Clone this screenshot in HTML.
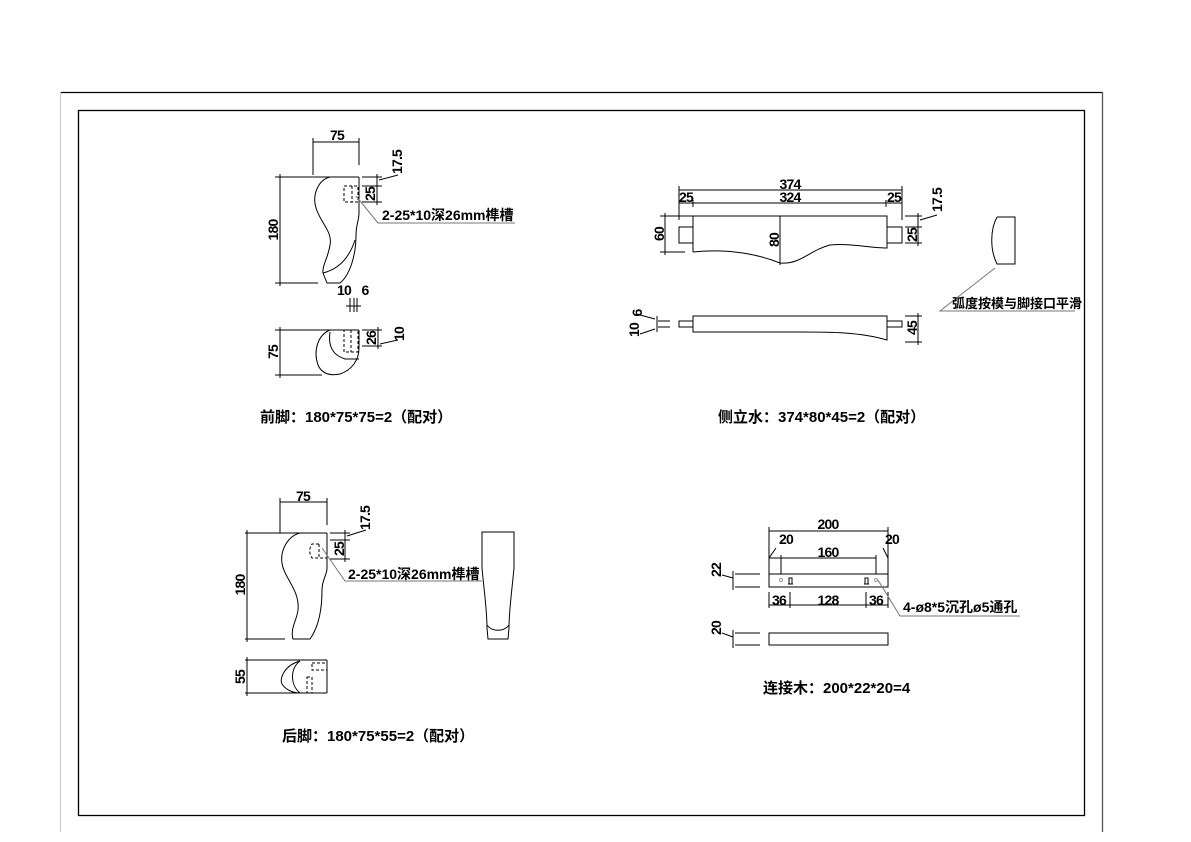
<!DOCTYPE html>
<html><head><meta charset="utf-8"><style>
html,body{margin:0;padding:0;background:#fff}
svg{display:block}
text{font-family:"Liberation Sans","Noto Sans CJK SC",sans-serif;fill:#000}
.d{font-size:14px;font-weight:bold;letter-spacing:-0.8px}
.c{font-size:15px;font-weight:bold}
</style></head><body>
<svg width="1191" height="842" viewBox="0 0 1191 842" xmlns="http://www.w3.org/2000/svg">
<g fill="none" stroke="#000" stroke-width="1">
<line x1="61" y1="92.5" x2="1102" y2="92.5" stroke-width="1.3"/>
<line x1="60.5" y1="92" x2="60.5" y2="832" stroke="#ccc"/>
<line x1="1102.5" y1="92" x2="1102.5" y2="832" stroke="#555" stroke-width="1.3"/>
<rect x="78.5" y="110.5" width="1006" height="705" stroke-width="1.3"/>

<!-- FRONT LEG -->
<line x1="313" y1="142" x2="359" y2="142"/>
<line x1="313" y1="138" x2="313" y2="175"/>
<line x1="359" y1="138" x2="359" y2="165"/>
<line x1="275" y1="177" x2="359" y2="177"/>
<line x1="275" y1="283" x2="318" y2="283"/>
<line x1="280" y1="174" x2="280" y2="286"/>
<path d="M330,177 C318,180 312,195 316,208 C320,222 333,232 330,245 C328,258 322,266 323,273 L327,283 L340,283 C350,275 356,255 356,235 C356,225 359,220 359,213 L359,177"/>
<path d="M323,273 C335,270 348,262 355,240"/>
<rect x="344" y="186" width="14" height="16" stroke-dasharray="3,2"/>
<line x1="352" y1="186" x2="352" y2="202" stroke-dasharray="3,2"/>
<line x1="362" y1="177" x2="382" y2="177"/>
<line x1="362" y1="186" x2="382" y2="186"/>
<line x1="362" y1="202" x2="382" y2="202"/>
<line x1="377" y1="174" x2="377" y2="205"/>
<line x1="379" y1="180" x2="398" y2="175"/>
<path d="M356,196 L378,223 L515,223" stroke="#777"/>
<line x1="350" y1="298" x2="350" y2="312"/>
<line x1="354" y1="298" x2="354" y2="312"/>
<line x1="357" y1="298" x2="357" y2="312"/>
<line x1="346" y1="306" x2="361" y2="306"/>
<line x1="275" y1="330" x2="359" y2="330"/>
<line x1="275" y1="375" x2="322" y2="375"/>
<line x1="280" y1="327" x2="280" y2="378"/>
<path d="M330,330 C318,335 313,350 318,365 C322,374 330,376 340,374 C352,370 359,360 359,348 L359,330"/>
<path d="M330,332 C328,345 332,355 345,359 L359,359"/>
<rect x="344" y="330" width="14" height="22" stroke-dasharray="3,2"/>
<line x1="351" y1="330" x2="351" y2="352" stroke-dasharray="3,2"/>
<line x1="362" y1="330" x2="382" y2="330"/>
<line x1="362" y1="346" x2="382" y2="346"/>
<line x1="378" y1="327" x2="378" y2="349"/>
<line x1="380" y1="344" x2="398" y2="340"/>

<!-- SIDE RAIL -->
<line x1="679" y1="190" x2="902" y2="190"/>
<line x1="679" y1="203" x2="902" y2="203"/>
<line x1="679" y1="186" x2="679" y2="220"/>
<line x1="902" y1="186" x2="902" y2="220"/>
<line x1="693" y1="200" x2="693" y2="207"/>
<line x1="886" y1="200" x2="886" y2="207"/>
<path d="M693,252 L693,216 L887,216 L887,248 C870,248 850,243 830,245 C810,250 800,265 780,263 C760,255 730,248 693,252"/>
<rect x="679" y="227" width="14" height="16"/>
<rect x="887" y="227" width="15" height="16"/>
<line x1="660" y1="216" x2="693" y2="216"/>
<line x1="660" y1="252" x2="685" y2="252"/>
<line x1="665" y1="213" x2="665" y2="255"/>
<line x1="780" y1="216" x2="780" y2="265"/>
<line x1="905" y1="216" x2="922" y2="216"/>
<line x1="905" y1="227" x2="922" y2="227"/>
<line x1="905" y1="243" x2="922" y2="243"/>
<line x1="918" y1="213" x2="918" y2="246"/>
<line x1="920" y1="220" x2="937" y2="215"/>
<path d="M997,217 L1015,217 L1015,264 L997,264 C990,250 990,230 997,217"/>
<path d="M995,268 L940,311 L1075,311" stroke="#777"/>
<path d="M693,316 L887,316 L887,340 C860,332 830,332 800,332 L693,332 Z"/>
<rect x="679" y="321" width="14" height="6"/>
<rect x="887" y="321" width="15" height="6"/>
<line x1="905" y1="316" x2="922" y2="316"/>
<line x1="905" y1="342" x2="922" y2="342"/>
<line x1="918" y1="313" x2="918" y2="345"/>
<line x1="658" y1="321" x2="670" y2="321"/>
<line x1="658" y1="327" x2="670" y2="327"/>
<line x1="657" y1="316" x2="657" y2="332"/>
<line x1="655" y1="319" x2="640" y2="315"/>
<line x1="655" y1="329" x2="640" y2="334"/>

<!-- BACK LEG -->
<line x1="280" y1="502" x2="327" y2="502"/>
<line x1="280" y1="498" x2="280" y2="533"/>
<line x1="327" y1="498" x2="327" y2="525"/>
<line x1="245" y1="533" x2="327" y2="533"/>
<line x1="245" y1="639" x2="285" y2="639"/>
<line x1="247" y1="530" x2="247" y2="642"/>
<path d="M300,533 C288,536 280,550 282,563 C284,578 300,590 298,610 C297,620 290,628 293,639 L310,639 C320,625 322,605 322,590 C322,580 327,575 327,568 L327,533"/>
<path d="M319,544 L312,544 C309,548 309,554 312,558 L327,558" stroke-dasharray="3,2"/>
<line x1="319" y1="544" x2="319" y2="558" stroke-dasharray="3,2"/>
<line x1="330" y1="533" x2="350" y2="533"/>
<line x1="330" y1="540" x2="350" y2="540"/>
<line x1="330" y1="559" x2="350" y2="559"/>
<line x1="345" y1="530" x2="345" y2="562"/>
<line x1="347" y1="536" x2="366" y2="530"/>
<path d="M322,548 L345,581 L482,581" stroke="#777"/>
<path d="M482,532 L514,532 L514,568 C512,590 509,610 509,628 L508,639 L488,639 L487,628 C487,610 484,590 482,568 Z"/>
<path d="M487,625 C492,632 504,632 509,625"/>
<line x1="245" y1="660" x2="327" y2="660"/>
<line x1="245" y1="693" x2="327" y2="693"/>
<line x1="247" y1="657" x2="247" y2="696"/>
<line x1="327" y1="660" x2="327" y2="693"/>
<path d="M300,661 C285,665 279,678 282,684 C286,690 293,693 300,693"/>
<path d="M300,661 C290,668 290,685 300,693"/>
<rect x="312" y="663" width="15" height="7" stroke-dasharray="3,2"/>
<rect x="307" y="677" width="5" height="16" stroke-dasharray="3,2"/>

<!-- CONNECTOR -->
<line x1="769" y1="531" x2="888" y2="531"/>
<line x1="769" y1="558" x2="876" y2="558"/>
<line x1="769" y1="527" x2="769" y2="574"/>
<line x1="888" y1="527" x2="888" y2="574"/>
<line x1="781" y1="555" x2="781" y2="574"/>
<line x1="876" y1="555" x2="876" y2="574"/>
<line x1="769" y1="558" x2="776" y2="548"/>
<line x1="888" y1="558" x2="883" y2="548"/>
<rect x="769" y="574" width="119" height="13"/>
<rect x="789" y="578" width="3" height="6"/>
<rect x="865" y="578" width="3" height="6"/>
<line x1="788" y1="584" x2="793" y2="584"/>
<line x1="864" y1="584" x2="869" y2="584"/>
<circle cx="781" cy="580" r="1.5" stroke="#999"/>
<circle cx="876" cy="580" r="1.5" stroke="#999"/>
<line x1="735" y1="574" x2="760" y2="574"/>
<line x1="735" y1="587" x2="760" y2="587"/>
<line x1="733" y1="571" x2="733" y2="590"/>
<line x1="733" y1="578" x2="722" y2="575"/>
<line x1="769" y1="605" x2="888" y2="605"/>
<line x1="769" y1="592" x2="769" y2="608"/>
<line x1="790" y1="592" x2="790" y2="608"/>
<line x1="866" y1="592" x2="866" y2="608"/>
<line x1="888" y1="592" x2="888" y2="608"/>
<path d="M878,580 L900,616 L1020,616" stroke="#777"/>
<rect x="769" y="633" width="119" height="12"/>
<line x1="735" y1="633" x2="760" y2="633"/>
<line x1="735" y1="645" x2="760" y2="645"/>
<line x1="733" y1="630" x2="733" y2="648"/>
<line x1="733" y1="637" x2="722" y2="633"/>
</g>

<g class="d">
<text x="337" y="140" text-anchor="middle">75</text>
<text transform="translate(402,162) rotate(-90)" text-anchor="middle">17.5</text>
<text transform="translate(375,194) rotate(-90)" text-anchor="middle">25</text>
<text transform="translate(278,230) rotate(-90)" text-anchor="middle">180</text>
<text x="382" y="220" font-size="14" letter-spacing="0">2-25*10深26mm榫槽</text>
<text x="344" y="295" text-anchor="middle">10</text>
<text x="365" y="295" text-anchor="middle">6</text>
<text transform="translate(278,352) rotate(-90)" text-anchor="middle">75</text>
<text transform="translate(376,338) rotate(-90)" text-anchor="middle">26</text>
<text transform="translate(404,334) rotate(-90)" text-anchor="middle">10</text>

<text x="790" y="189" text-anchor="middle">374</text>
<text x="790" y="202" text-anchor="middle">324</text>
<text x="686" y="202" text-anchor="middle">25</text>
<text x="894" y="202" text-anchor="middle">25</text>
<text transform="translate(664,234) rotate(-90)" text-anchor="middle">60</text>
<text transform="translate(779,240) rotate(-90)" text-anchor="middle">80</text>
<text transform="translate(917,235) rotate(-90)" text-anchor="middle">25</text>
<text transform="translate(942,200) rotate(-90)" text-anchor="middle">17.5</text>
<text x="952" y="308" font-size="13" letter-spacing="0">弧度按模与脚接口平滑</text>
<text transform="translate(642,313) rotate(-90)" text-anchor="middle">6</text>
<text transform="translate(639,330) rotate(-90)" text-anchor="middle">10</text>
<text transform="translate(917,328) rotate(-90)" text-anchor="middle">45</text>

<text x="303" y="501" text-anchor="middle">75</text>
<text transform="translate(370,518) rotate(-90)" text-anchor="middle">17.5</text>
<text transform="translate(344,549) rotate(-90)" text-anchor="middle">25</text>
<text transform="translate(245,585) rotate(-90)" text-anchor="middle">180</text>
<text x="348" y="579" font-size="14" letter-spacing="0">2-25*10深26mm榫槽</text>
<text transform="translate(245,677) rotate(-90)" text-anchor="middle">55</text>

<text x="828" y="529" text-anchor="middle">200</text>
<text x="786" y="544" text-anchor="middle">20</text>
<text x="892" y="544" text-anchor="middle">20</text>
<text x="828" y="557" text-anchor="middle">160</text>
<text transform="translate(721,570) rotate(-90)" text-anchor="middle">22</text>
<text x="779" y="605" text-anchor="middle">36</text>
<text x="828" y="605" text-anchor="middle">128</text>
<text x="876" y="605" text-anchor="middle">36</text>
<text x="903" y="612" font-size="14" letter-spacing="0">4-ø8*5沉孔ø5通孔</text>
<text transform="translate(721,628) rotate(-90)" text-anchor="middle">20</text>
</g>
<g class="c">
<text x="260" y="422">前脚：180*75*75=2（配对）</text>
<text x="718" y="422">侧立水：374*80*45=2（配对）</text>
<text x="282" y="741">后脚：180*75*55=2（配对）</text>
<text x="763" y="693">连接木：200*22*20=4</text>
</g>
</svg>
</body></html>
